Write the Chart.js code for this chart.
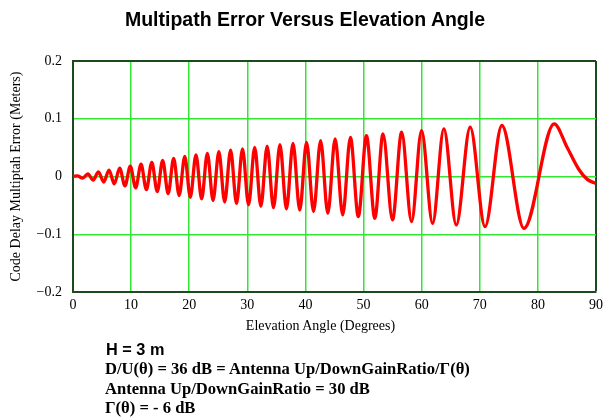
<!DOCTYPE html>
<html>
<head>
<meta charset="utf-8">
<script src="https://cdn.jsdelivr.net/npm/chart.js@4/dist/chart.umd.min.js"></script>
<style>
  html, body { margin: 0; padding: 0; background: #ffffff; }
  #wrap { position: relative; width: 603px; height: 419px; overflow: hidden; }
  #c { position: absolute; left: 0; top: 0; }
  .txt { position: absolute; white-space: nowrap; line-height: 1; color: #000; }
  .sans { font-family: 'Liberation Sans', Arial, sans-serif; font-weight: bold; }
  .serif { font-family: 'Liberation Serif', 'Times New Roman', serif; }
</style>
</head>
<body>
<div id="wrap">
  <canvas id="c" width="603" height="419"></canvas>
  <div class="txt sans" style="left:305px; top:10px; font-size:19.5px; transform:translateX(-50%);">Multipath Error Versus Elevation Angle</div>
  <div class="txt serif" style="left:320.5px; top:319px; font-size:14px; transform:translateX(-50%);">Elevation Angle (Degrees)</div>
  <div class="txt sans" style="left:106px; top:341px; font-size:16.3px;">H = 3 m</div>
  <div class="txt serif" style="left:105px; top:360.5px; font-size:16.6px; font-weight:bold;">D/U(θ) = 36 dB = Antenna Up/DownGainRatio/Γ(θ)</div>
  <div class="txt serif" style="left:105px; top:380.5px; font-size:16.6px; font-weight:bold;">Antenna Up/DownGainRatio = 30 dB</div>
  <div class="txt serif" style="left:105px; top:400px; font-size:16.6px; font-weight:bold;">Γ(θ) = - 6 dB</div>
</div>
<script>
// Elevation angle (degrees) of the curve's turning points
const elevationDeg = [
  0,
  0.75, 1.66, 2.56, 3.47, 4.38, 5.29, 6.20, 7.11, 8.03, 8.94,
  9.86, 10.78, 11.71, 12.63, 13.56, 14.50, 15.43, 16.38, 17.32, 18.27,
  19.23, 20.19, 21.16, 22.14, 23.12, 24.10, 25.10, 26.10, 27.12, 28.14,
  29.17, 30.21, 31.27, 32.33, 33.41, 34.50, 35.61, 36.73, 37.86, 39.02,
  40.19, 41.39, 42.61, 43.85, 45.11, 46.41, 47.74, 49.10, 50.50, 51.94,
  53.35, 54.98, 56.55, 58.26, 59.98, 61.88, 63.82, 65.95, 68.35, 70.9,
  73.8, 77.6, 82.8,
  85, 87, 88.5, 90
];
// Code delay multipath error (meters) at those angles
const multipathErr = [
  0,
  0.0011, -0.0028, 0.0045, -0.0061, 0.0078, -0.0095, 0.0111, -0.0128, 0.0145, -0.0162,
  0.0178, -0.0195, 0.0212, -0.0229, 0.0245, -0.0262, 0.0279, -0.0296, 0.0312, -0.0329,
  0.0346, -0.0360, 0.0374, -0.0388, 0.0402, -0.0416, 0.0429, -0.0442, 0.0455, -0.0467,
  0.0480, -0.0492, 0.0504, -0.0516, 0.0527, -0.0539, 0.0550, -0.0561, 0.0571, -0.0582,
  0.0592, -0.0606, 0.0621, -0.0636, 0.0650, -0.0665, 0.0679, -0.0694, 0.0708, -0.0723,
  0.0737, -0.0752, 0.0767, -0.0781, 0.0796, -0.0810, 0.0825, -0.0839, 0.0854, -0.0868,
  0.0883, -0.0898, 0.0912,
  0.051, 0.013, -0.005, -0.012
];
const xTickLabels = ['0', '10', '20', '30', '40', '50', '60', '70', '80', '90'];
const yTickLabels = ['\u22120.2', '\u22120.1', '0', '0.1', '0.2'];

const SERIF = "'Liberation Serif', 'Times New Roman', serif";
const GRID = '#33e633';
const FRAME = '#1d4a1d';

const points = elevationDeg.map((x, i) => ({ x: x, y: multipathErr[i] }));
const xGridColors = xTickLabels.map((t, i) => i === xTickLabels.length - 1 ? FRAME : GRID);
const xGridWidths = xTickLabels.map((t, i) => i === xTickLabels.length - 1 ? 2 : 1.5);
const yGridColors = yTickLabels.map((t, i) => i === yTickLabels.length - 1 ? FRAME : GRID);
const yGridWidths = yTickLabels.map((t, i) => i === yTickLabels.length - 1 ? 2 : 1.5);

new Chart(document.getElementById('c'), {
  type: 'line',
  data: {
    datasets: [{
      data: points,
      borderColor: '#ff0000',
      borderWidth: 3.3,
      pointRadius: 0,
      fill: false,
      cubicInterpolationMode: 'monotone'
    }]
  },
  options: {
    responsive: false,
    animation: false,
    devicePixelRatio: 1,
    layout: { padding: { top: 61, left: 0, right: 7, bottom: 97 } },
    plugins: { legend: { display: false }, title: { display: false }, tooltip: { enabled: false } },
    scales: {
      x: {
        type: 'linear',
        min: 0, max: 90,
        afterFit: (s) => { s.height = 30; s.paddingLeft = 0; s.paddingRight = 0; },
        ticks: {
          stepSize: 10, autoSkip: false, maxRotation: 0, padding: 5,
          color: '#000', font: { family: SERIF, size: 14 },
          callback: (v, i) => xTickLabels[i]
        },
        grid: { drawTicks: false, color: xGridColors, lineWidth: xGridWidths },
        border: { display: true, color: FRAME, width: 2 }
      },
      y: {
        type: 'linear',
        min: -0.2, max: 0.2,
        afterFit: (s) => { s.width = 73; s.paddingTop = 0; s.paddingBottom = 0; },
        ticks: {
          stepSize: 0.1, padding: 11,
          color: '#000', font: { family: SERIF, size: 14 },
          callback: (v, i) => yTickLabels[i]
        },
        grid: { drawTicks: false, color: yGridColors, lineWidth: yGridWidths },
        border: { display: true, color: FRAME, width: 2 },
        title: {
          display: true,
          text: 'Code Delay Multiptah Error (Meters)',
          color: '#000',
          font: { family: SERIF, size: 14, weight: 'normal' },
          padding: { top: 8, bottom: 0 }
        }
      }
    }
  }
});
</script>
</body>
</html>
